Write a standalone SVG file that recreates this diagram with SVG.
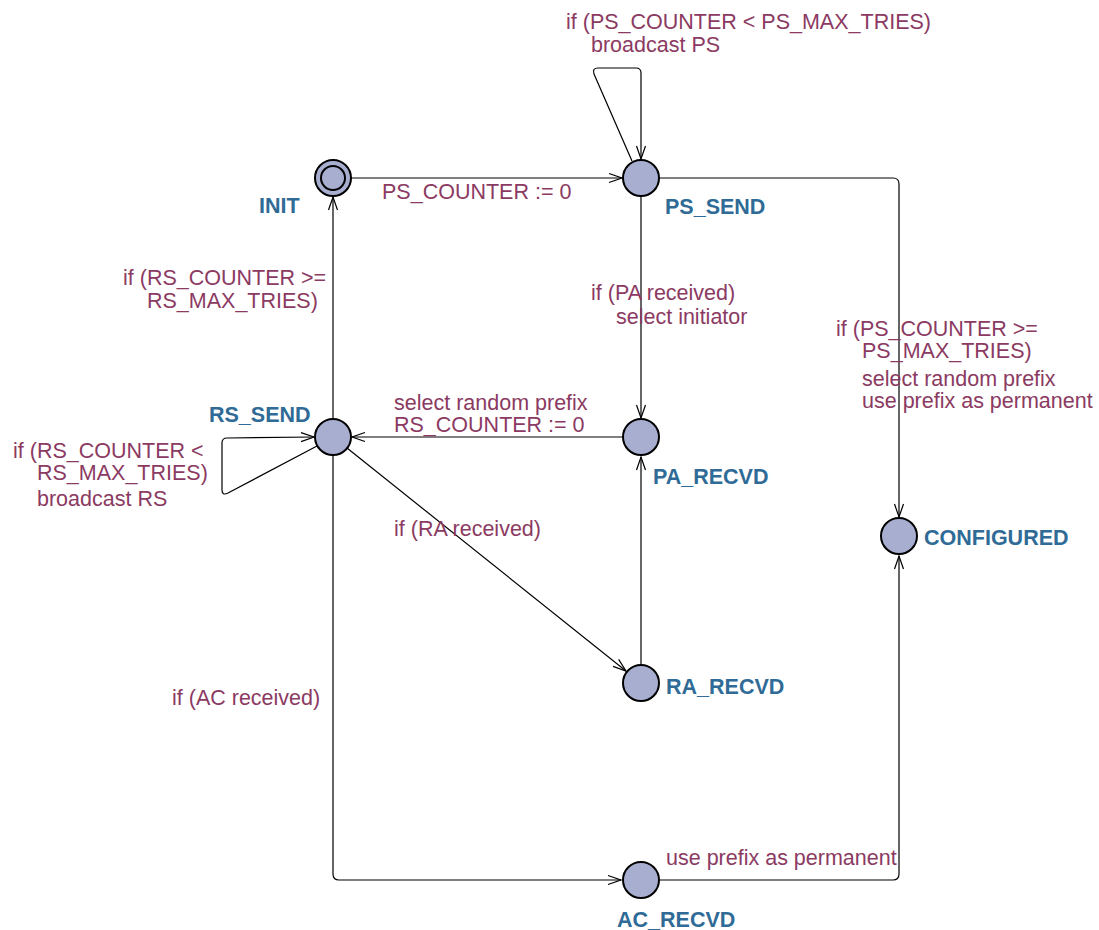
<svg xmlns="http://www.w3.org/2000/svg" width="1099" height="930" viewBox="0 0 1099 930">
  <style>
    .loc { fill: #a8aed0; stroke: #000; stroke-width: 2; }
    .name { font-family: "Liberation Sans", Arial, sans-serif; font-size: 21.5px; font-weight: bold; fill: #2f6b96; }
    .lbl { font-family: "Liberation Sans", Arial, sans-serif; font-size: 21.5px; fill: #8b3a62; }
    .edge { fill: none; stroke: #000; stroke-width: 1.2; marker-end: url(#arrow); }
  </style>
  <defs>
    <marker id="arrow" markerUnits="userSpaceOnUse" markerWidth="16" markerHeight="12" viewBox="-14 -6 16 12" refX="0" refY="0" orient="auto">
      <path d="M-13,-4.5 L0,0 L-13,4.5" fill="none" stroke="#000" stroke-width="1.2"/>
    </marker>
  </defs>
  <rect width="1099" height="930" fill="#fff"/>

  <!-- transitions -->
  <g id="connectors">
    <path class="edge" d="M351,178 L622,178"/>
    <path class="edge" d="M632,161 L594,74 Q592,68 598,68 L636,68 Q641,68 641,73 L641,159"/>
    <path class="edge" d="M659,178 L893,178 Q899,178 899,184 L899,517"/>
    <path class="edge" d="M641,196 L641,418"/>
    <path class="edge" d="M622,437 L352,437"/>
    <path class="edge" d="M333,419 L333,197"/>
    <path class="edge" d="M317,446 L228,493 Q222,496 222,490 L222,443 Q222,438 227,438 L314,437"/>
    <path class="edge" d="M347,448 L626,671"/>
    <path class="edge" d="M641,665 L641,457"/>
    <path class="edge" d="M333,455 L333,874 Q333,880 339,880 L621,880"/>
    <path class="edge" d="M659,880 L893,880 Q899,880 899,874 L899,556"/>

    <text class="lbl" x="382" y="199">PS_COUNTER := 0</text>
    <text class="lbl" x="566" y="29">if (PS_COUNTER &lt; PS_MAX_TRIES)</text>
    <text class="lbl" x="591" y="52">broadcast PS</text>
    <text class="lbl" x="836" y="336">if (PS_COUNTER &gt;=</text>
    <text class="lbl" x="862" y="358">PS_MAX_TRIES)</text>
    <text class="lbl" x="862" y="386">select random prefix</text>
    <text class="lbl" x="862" y="408">use prefix as permanent</text>
    <text class="lbl" x="591" y="300">if (PA received)</text>
    <text class="lbl" x="616" y="324">select initiator</text>
    <text class="lbl" x="394" y="410">select random prefix</text>
    <text class="lbl" x="394" y="432">RS_COUNTER := 0</text>
    <text class="lbl" x="123" y="285">if (RS_COUNTER &gt;=</text>
    <text class="lbl" x="147" y="308">RS_MAX_TRIES)</text>
    <text class="lbl" x="13" y="458">if (RS_COUNTER &lt;</text>
    <text class="lbl" x="37" y="480">RS_MAX_TRIES)</text>
    <text class="lbl" x="37" y="506">broadcast RS</text>
    <text class="lbl" x="394" y="536">if (RA received)</text>
    <text class="lbl" x="172" y="705">if (AC received)</text>
    <text class="lbl" x="666" y="865">use prefix as permanent</text>
  </g>

  <!-- locations -->
  <g id="INIT">
    <circle class="loc" cx="333" cy="178" r="18"/>
    <circle cx="333" cy="178" r="12" fill="none" stroke="#000" stroke-width="2"/>
    <text class="name" x="259" y="213">INIT</text>
  </g>
  <g id="PS_SEND">
    <circle class="loc" cx="641" cy="178" r="18"/>
    <text class="name" x="665" y="214">PS_SEND</text>
  </g>
  <g id="RS_SEND">
    <circle class="loc" cx="333" cy="437" r="18"/>
    <text class="name" x="209" y="422">RS_SEND</text>
  </g>
  <g id="PA_RECVD">
    <circle class="loc" cx="641" cy="437" r="18"/>
    <text class="name" x="653" y="484">PA_RECVD</text>
  </g>
  <g id="RA_RECVD">
    <circle class="loc" cx="641" cy="683" r="18"/>
    <text class="name" x="666" y="694">RA_RECVD</text>
  </g>
  <g id="CONFIGURED">
    <circle class="loc" cx="899" cy="536" r="18"/>
    <text class="name" x="924" y="545">CONFIGURED</text>
  </g>
  <g id="AC_RECVD">
    <circle class="loc" cx="641" cy="880" r="18"/>
    <text class="name" x="617" y="927">AC_RECVD</text>
  </g>
</svg>
